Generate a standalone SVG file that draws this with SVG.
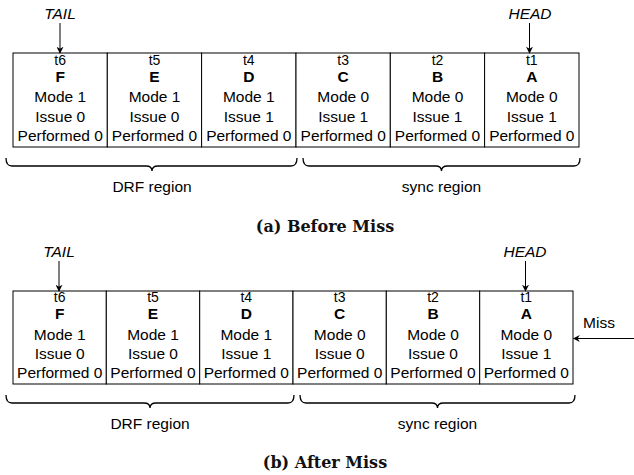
<svg xmlns="http://www.w3.org/2000/svg" width="634" height="475" viewBox="0 0 634 475">
  <defs>
    <marker id="arrow" viewBox="0 0 10 10" refX="9" refY="5" markerWidth="7" markerHeight="7" markerUnits="userSpaceOnUse" orient="auto">
      <path d="M0,0 L10,5 L0,10 L3,5 z" fill="#000"/>
    </marker>
    <style>
      .cell { fill: #fff; stroke: #000; stroke-width: 1; }
      .txt { font-family: "Liberation Sans", Arial, sans-serif; font-size: 15.5px; fill: #000; text-anchor: middle; }
      .small { font-size: 14px; }
      .bold { font-weight: bold; }
      .ptr { font-style: italic; }
      .brace { fill: none; stroke: #000; stroke-width: 1.3; }
      .conn { fill: none; stroke: #000; stroke-width: 1; marker-end: url(#arrow); }
      .cap { font-family: "DejaVu Serif", "Liberation Serif", serif; font-weight: bold; font-size: 16px; fill: #111; text-anchor: middle; }
    </style>
  </defs>

  <!-- Part (a): queue before the miss -->
  <g id="before">
    <g id="a-t6">
      <rect class="cell" x="13" y="53" width="94.3" height="94"/>
      <text class="txt small" x="60.2" y="65">t6</text>
      <text class="txt bold" x="60.2" y="81.7">F</text>
      <text class="txt" x="60.2" y="102.3">Mode 1</text>
      <text class="txt" x="60.2" y="121.7">Issue 0</text>
      <text class="txt" x="60.2" y="140.7">Performed 0</text>
    </g>
    <g id="a-t5">
      <rect class="cell" x="107.3" y="53" width="94.3" height="94"/>
      <text class="txt small" x="154.5" y="65">t5</text>
      <text class="txt bold" x="154.5" y="81.7">E</text>
      <text class="txt" x="154.5" y="102.3">Mode 1</text>
      <text class="txt" x="154.5" y="121.7">Issue 0</text>
      <text class="txt" x="154.5" y="140.7">Performed 0</text>
    </g>
    <g id="a-t4">
      <rect class="cell" x="201.6" y="53" width="94.4" height="94"/>
      <text class="txt small" x="248.8" y="65">t4</text>
      <text class="txt bold" x="248.8" y="81.7">D</text>
      <text class="txt" x="248.8" y="102.3">Mode 1</text>
      <text class="txt" x="248.8" y="121.7">Issue 1</text>
      <text class="txt" x="248.8" y="140.7">Performed 0</text>
    </g>
    <g id="a-t3">
      <rect class="cell" x="296" y="53" width="94.3" height="94"/>
      <text class="txt small" x="343.2" y="65">t3</text>
      <text class="txt bold" x="343.2" y="81.7">C</text>
      <text class="txt" x="343.2" y="102.3">Mode 0</text>
      <text class="txt" x="343.2" y="121.7">Issue 1</text>
      <text class="txt" x="343.2" y="140.7">Performed 0</text>
    </g>
    <g id="a-t2">
      <rect class="cell" x="390.3" y="53" width="94.3" height="94"/>
      <text class="txt small" x="437.5" y="65">t2</text>
      <text class="txt bold" x="437.5" y="81.7">B</text>
      <text class="txt" x="437.5" y="102.3">Mode 0</text>
      <text class="txt" x="437.5" y="121.7">Issue 1</text>
      <text class="txt" x="437.5" y="140.7">Performed 0</text>
    </g>
    <g id="a-t1">
      <rect class="cell" x="484.6" y="53" width="94.4" height="94"/>
      <text class="txt small" x="531.8" y="65">t1</text>
      <text class="txt bold" x="531.8" y="81.7">A</text>
      <text class="txt" x="531.8" y="102.3">Mode 0</text>
      <text class="txt" x="531.8" y="121.7">Issue 1</text>
      <text class="txt" x="531.8" y="140.7">Performed 0</text>
    </g>
    <g id="a-tail">
      <text class="txt ptr" x="60" y="19">TAIL</text>
    </g>
    <g id="a-head">
      <text class="txt ptr" x="530" y="19">HEAD</text>
    </g>
    <g id="a-drf">
      <path class="brace" d="M6,158 Q6,166 12,166 L146,166 Q152,166 152,171 Q152,166 158,166 L291,166 Q297,166 297,158"/>
      <text class="txt" x="152" y="192">DRF region</text>
    </g>
    <g id="a-sync">
      <path class="brace" d="M303,158 Q303,166 309,166 L435.5,166 Q441.5,166 441.5,171 Q441.5,166 447.5,166 L574,166 Q580,166 580,158"/>
      <text class="txt" x="441.5" y="192">sync region</text>
    </g>
    <text class="cap" x="325" y="232">(a) Before Miss</text>
  </g>

  <!-- Part (b): queue after the miss -->
  <g id="after">
    <g id="b-t6">
      <rect class="cell" x="13" y="291" width="93.3" height="93"/>
      <text class="txt small" x="59.7" y="302.3">t6</text>
      <text class="txt bold" x="59.7" y="319.3">F</text>
      <text class="txt" x="59.7" y="340">Mode 1</text>
      <text class="txt" x="59.7" y="359">Issue 0</text>
      <text class="txt" x="59.7" y="377.7">Performed 0</text>
    </g>
    <g id="b-t5">
      <rect class="cell" x="106.3" y="291" width="93.4" height="93"/>
      <text class="txt small" x="153" y="302.3">t5</text>
      <text class="txt bold" x="153" y="319.3">E</text>
      <text class="txt" x="153" y="340">Mode 1</text>
      <text class="txt" x="153" y="359">Issue 0</text>
      <text class="txt" x="153" y="377.7">Performed 0</text>
    </g>
    <g id="b-t4">
      <rect class="cell" x="199.7" y="291" width="93.3" height="93"/>
      <text class="txt small" x="246.3" y="302.3">t4</text>
      <text class="txt bold" x="246.3" y="319.3">D</text>
      <text class="txt" x="246.3" y="340">Mode 1</text>
      <text class="txt" x="246.3" y="359">Issue 1</text>
      <text class="txt" x="246.3" y="377.7">Performed 0</text>
    </g>
    <g id="b-t3">
      <rect class="cell" x="293" y="291" width="93.3" height="93"/>
      <text class="txt small" x="339.7" y="302.3">t3</text>
      <text class="txt bold" x="339.7" y="319.3">C</text>
      <text class="txt" x="339.7" y="340">Mode 0</text>
      <text class="txt" x="339.7" y="359">Issue 0</text>
      <text class="txt" x="339.7" y="377.7">Performed 0</text>
    </g>
    <g id="b-t2">
      <rect class="cell" x="386.3" y="291" width="93.4" height="93"/>
      <text class="txt small" x="433" y="302.3">t2</text>
      <text class="txt bold" x="433" y="319.3">B</text>
      <text class="txt" x="433" y="340">Mode 0</text>
      <text class="txt" x="433" y="359">Issue 0</text>
      <text class="txt" x="433" y="377.7">Performed 0</text>
    </g>
    <g id="b-t1">
      <rect class="cell" x="479.7" y="291" width="93.3" height="93"/>
      <text class="txt small" x="526.3" y="302.3">t1</text>
      <text class="txt bold" x="526.3" y="319.3">A</text>
      <text class="txt" x="526.3" y="340">Mode 0</text>
      <text class="txt" x="526.3" y="359">Issue 1</text>
      <text class="txt" x="526.3" y="377.7">Performed 0</text>
    </g>
    <g id="b-tail">
      <text class="txt ptr" x="59" y="257">TAIL</text>
    </g>
    <g id="b-head">
      <text class="txt ptr" x="525" y="257">HEAD</text>
    </g>
    <g id="b-miss">
      <text class="txt" x="599" y="328">Miss</text>
    </g>
    <g id="b-drf">
      <path class="brace" d="M6,395 Q6,403 12,403 L144,403 Q150,403 150,408 Q150,403 156,403 L288,403 Q294,403 294,395"/>
      <text class="txt" x="150" y="429">DRF region</text>
    </g>
    <g id="b-sync">
      <path class="brace" d="M300,395 Q300,403 306,403 L431.5,403 Q437.5,403 437.5,408 Q437.5,403 443.5,403 L569,403 Q575,403 575,395"/>
      <text class="txt" x="437.5" y="429">sync region</text>
    </g>
    <text class="cap" x="325" y="468">(b) After Miss</text>
  </g>

  <!-- pointer arrows -->
  <g id="connectors">
    <line class="conn" x1="60" y1="23" x2="60" y2="53"/>
    <line class="conn" x1="529.5" y1="23" x2="529.5" y2="53"/>
    <line class="conn" x1="59" y1="261" x2="59" y2="291"/>
    <line class="conn" x1="525.5" y1="261" x2="525.5" y2="291"/>
    <line class="conn" x1="634" y1="338.5" x2="573.5" y2="338.5"/>
  </g>
</svg>
